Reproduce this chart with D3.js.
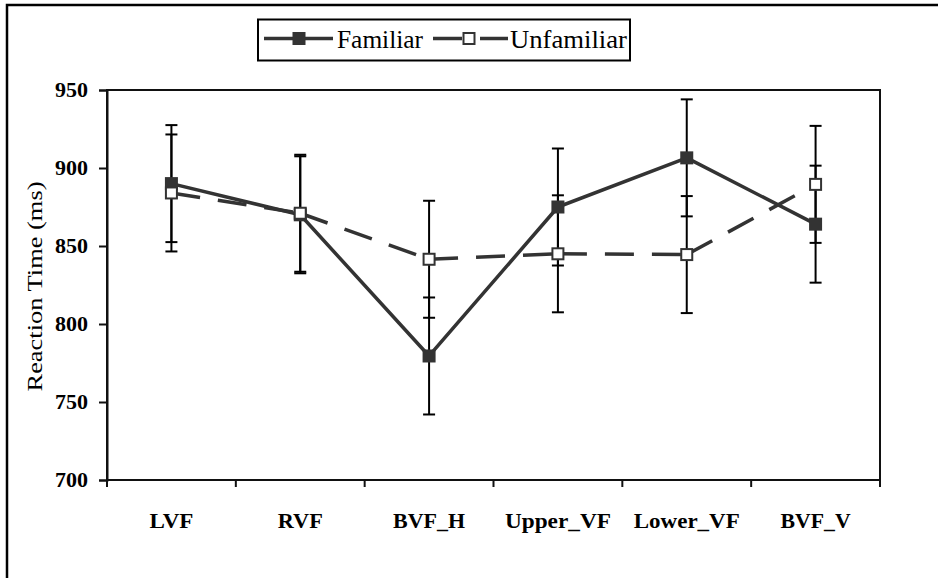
<!DOCTYPE html>
<html>
<head>
<meta charset="utf-8">
<script src="https://cdn.jsdelivr.net/npm/d3@7"></script>
<style>
  html, body { margin: 0; padding: 0; background: #fff; }
  svg { display: block; }
</style>
</head>
<body>
<svg id="chart" width="938" height="578"></svg>
<script>
const categories = ["LVF", "RVF", "BVF_H", "Upper_VF", "Lower_VF", "BVF_V"];
const familiar = [890, 870, 779.5, 875, 906.5, 864];
const unfamiliar = [884, 871, 841.5, 845, 844.5, 889.5];
const familiarErr = [37.5, 37.5, 37.5, 37.5, 37.5, 37.5];
const unfamiliarErr = [37.5, 37.5, 37.5, 37.5, 37.5, 37.5];
const yTicks = [700, 750, 800, 850, 900, 950];
const seriesNames = ["Familiar", "Unfamiliar"];
const yTitle = "Reaction Time (ms)";

(function () {
// pick an installed serif face
function hasFont(fam) {
  const c = document.createElement("canvas").getContext("2d");
  const s = "mmmmmmmmmmlliWWQ@#0123";
  const res = [];
  for (const base of ["monospace", "sans-serif"]) {
    c.font = `72px ${base}`;
    const w0 = c.measureText(s).width;
    c.font = `72px "${fam}", ${base}`;
    const w1 = c.measureText(s).width;
    res.push(Math.abs(w1 - w0) > 0.5);
  }
  return res[0] && res[1];
}
const candidates = ["Liberation Serif", "Tinos", "Times New Roman", "Times", "Nimbus Roman", "Nimbus Roman No9 L", "FreeSerif", "DejaVu Serif", "Noto Serif", "Noto Serif CJK SC", "Source Han Serif SC"];
let serifFam = null;
for (const f of candidates) { if (hasFont(f)) { serifFam = f; break; } }
const FONT = serifFam ? `"${serifFam}", serif` : "serif";

const svg = d3.select("#chart");
const W = 938, H = 578;
const pL = 107, pR = 880, pT = 90, pB = 480;
const lineColor = "#333333";

svg.append("rect").attr("width", W).attr("height", H).attr("fill", "#fff");

// outer frame (left and top edges visible)
svg.append("path")
  .attr("d", `M7,${H + 5} L7,5 L${W + 5},5`)
  .attr("fill", "none").attr("stroke", "#000").attr("stroke-width", 2.5);

const x = d3.scaleBand().domain(categories).range([pL, pR]).padding(0);
const y = d3.scaleLinear().domain([700, 950]).range([pB, pT]);
const cx = d => x(d) + x.bandwidth() / 2;

// plot area box
svg.append("rect")
  .attr("x", pL).attr("y", pT)
  .attr("width", pR - pL).attr("height", pB - pT)
  .attr("fill", "none").attr("stroke", "#111").attr("stroke-width", 2);

// y axis
const yAxis = d3.axisLeft(y).tickValues(yTicks).tickSize(8).tickPadding(11).tickFormat(d3.format("d"));
const gy = svg.append("g").attr("transform", `translate(${pL},0)`).call(yAxis);
gy.attr("font-family", null).attr("font-size", null);
gy.select(".domain").attr("stroke", "#111").attr("stroke-width", 2);
gy.selectAll(".tick line").attr("stroke", "#111").attr("stroke-width", 2);
gy.selectAll(".tick text")
  .attr("fill", "#000")
  .style("font-family", FONT)
  .style("font-size", "21px").style("font-weight", "bold")
  .attr("textLength", 33).attr("lengthAdjust", "spacingAndGlyphs");

// x axis: ticks at category boundaries, labels centered
const xLabelWidth = { "LVF": 44, "RVF": 45, "BVF_H": 72, "Upper_VF": 106, "Lower_VF": 106, "BVF_V": 70 };
const xAxisG = svg.append("g").attr("transform", `translate(0,${pB})`);
xAxisG.append("line").attr("x1", pL).attr("x2", pR).attr("stroke", "#111").attr("stroke-width", 2);
const bounds = categories.map(c => x(c)).concat([pR]);
xAxisG.selectAll("line.tk").data(bounds).enter().append("line")
  .attr("class", "tk")
  .attr("x1", d => d).attr("x2", d => d).attr("y1", 0).attr("y2", 7)
  .attr("stroke", "#111").attr("stroke-width", 2);
xAxisG.selectAll("text.lbl").data(categories).enter().append("text")
  .attr("class", "lbl")
  .attr("x", d => cx(d)).attr("y", 48)
  .attr("text-anchor", "middle")
  .style("font-family", FONT)
  .style("font-size", "22px").style("font-weight", "bold")
  .attr("textLength", d => xLabelWidth[d]).attr("lengthAdjust", "spacingAndGlyphs")
  .text(d => d);

// y title
svg.append("text")
  .attr("transform", `translate(42,286.5) rotate(-90)`)
  .attr("text-anchor", "middle")
  .style("font-family", FONT)
  .style("font-size", "21px")
  .attr("textLength", 210).attr("lengthAdjust", "spacingAndGlyphs")
  .text(yTitle);

// error bars
function errorBars(vals, errs) {
  const g = svg.append("g");
  categories.forEach((c, i) => {
    const xc = cx(c);
    const lo = y(vals[i] - errs[i]), hi = y(vals[i] + errs[i]);
    g.append("line").attr("x1", xc).attr("x2", xc).attr("y1", lo).attr("y2", hi)
      .attr("stroke", "#000").attr("stroke-width", 2);
    [lo, hi].forEach(yy => {
      g.append("line").attr("x1", xc - 6).attr("x2", xc + 6).attr("y1", yy).attr("y2", yy)
        .attr("stroke", "#000").attr("stroke-width", 2);
    });
  });
}
errorBars(familiar, familiarErr);
errorBars(unfamiliar, unfamiliarErr);

// familiar series
const line = d3.line().x((d, i) => cx(categories[i])).y(d => y(d));
svg.append("path").datum(familiar).attr("d", line)
  .attr("fill", "none").attr("stroke", lineColor).attr("stroke-width", 3.5)
  .attr("stroke-linejoin", "round");
svg.append("g").selectAll("rect").data(familiar).enter().append("rect")
  .attr("x", (d, i) => cx(categories[i]) - 6.5).attr("y", d => y(d) - 6.5)
  .attr("width", 13).attr("height", 13).attr("fill", lineColor);

// unfamiliar series: dashed, pattern restarts at each point
const ug = svg.append("g");
for (let i = 0; i < unfamiliar.length - 1; i++) {
  ug.append("line")
    .attr("x1", cx(categories[i])).attr("y1", y(unfamiliar[i]))
    .attr("x2", cx(categories[i + 1])).attr("y2", y(unfamiliar[i + 1]))
    .attr("stroke", lineColor).attr("stroke-width", 3.5)
    .attr("stroke-dasharray", "29,18");
}
svg.append("g").selectAll("rect").data(unfamiliar).enter().append("rect")
  .attr("x", (d, i) => cx(categories[i]) - 5.5).attr("y", d => y(d) - 5.5)
  .attr("width", 11).attr("height", 11)
  .attr("fill", "#fff").attr("stroke", lineColor).attr("stroke-width", 2);

// legend
const lg = svg.append("g");
lg.append("rect").attr("x", 258).attr("y", 19.5).attr("width", 372).attr("height", 41)
  .attr("fill", "#fff").attr("stroke", "#000").attr("stroke-width", 2);
const ly = 38.5;
lg.append("line").attr("x1", 264).attr("x2", 333).attr("y1", ly).attr("y2", ly)
  .attr("stroke", lineColor).attr("stroke-width", 3.5);
lg.append("rect").attr("x", 292.5).attr("y", ly - 6.5).attr("width", 13).attr("height", 13).attr("fill", lineColor);
lg.append("text").attr("x", 337).attr("y", 47.5)
  .style("font-family", FONT).style("font-size", "25.5px")
  .attr("textLength", 86).attr("lengthAdjust", "spacingAndGlyphs")
  .text(seriesNames[0]);
lg.append("line").attr("x1", 433).attr("x2", 508).attr("y1", ly).attr("y2", ly)
  .attr("stroke", lineColor).attr("stroke-width", 3.5).attr("stroke-dasharray", "29,18");
lg.append("rect").attr("x", 463.5).attr("y", ly - 5.5).attr("width", 11).attr("height", 11)
  .attr("fill", "#fff").attr("stroke", lineColor).attr("stroke-width", 2);
lg.append("text").attr("x", 510).attr("y", 47.5)
  .style("font-family", FONT).style("font-size", "25.5px")
  .attr("textLength", 117).attr("lengthAdjust", "spacingAndGlyphs")
  .text(seriesNames[1]);
})();
</script>
</body>
</html>
